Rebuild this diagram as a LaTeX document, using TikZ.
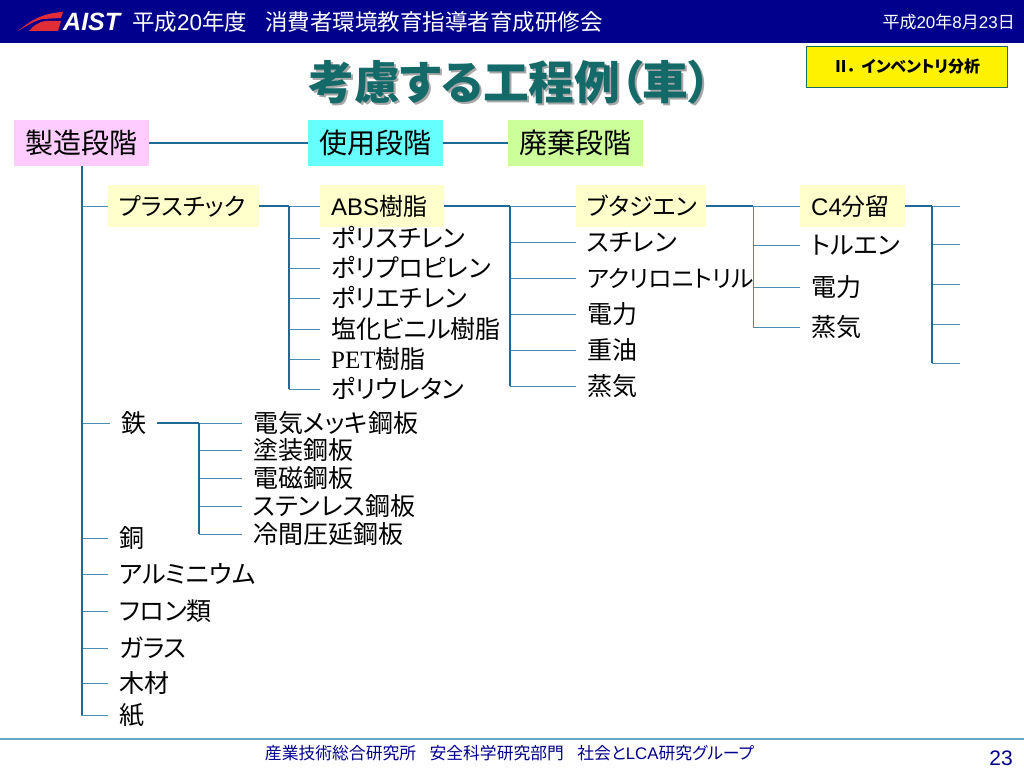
\documentclass[tikz,border=0pt]{standalone}
\usepackage{fontspec}
\setmainfont[RawFeature=+palt]{Noto Sans CJK JP}
\newfontfamily\arialfont{Liberation Sans}
\newfontfamily\romanfont{Liberation Serif}
\usetikzlibrary{calc,positioning}

\definecolor{headblue}{RGB}{0,0,140}
\definecolor{linkblue}{RGB}{30,105,150}
\definecolor{paleblue}{RGB}{75,140,180}
\definecolor{footblue}{RGB}{100,170,205}
\definecolor{titlegreen}{RGB}{20,105,105}
\definecolor{logored}{RGB}{225,45,55}
\definecolor{partyellow}{RGB}{255,255,204}
\definecolor{stagepink}{RGB}{255,204,255}
\definecolor{stagecyan}{RGB}{102,255,255}
\definecolor{stagegreen}{RGB}{204,255,153}
\newcommand{\fsize}[1]{\fontsize{#1}{#1}\selectfont}

\tikzset{
  stagebox/.style={anchor=west, minimum width=135, minimum height=46, inner xsep=0, inner ysep=0,
    text height=24.6, text depth=3.4, font=\fsize{28}},
  partbox/.style={anchor=west, fill=partyellow, minimum height=42, inner xsep=11, inner ysep=0,
    text height=21, text depth=3, font=\fsize{24}},
  leaf/.style={anchor=west, inner xsep=11, inner ysep=0, text height=22, text depth=3, font=\fsize{25}},
  trunkline/.style={draw=linkblue, line width=1.7},
  branchline/.style={draw=paleblue, line width=1},
  headtext/.style={anchor=west, text=white, inner sep=0},
}

\begin{document}
\begin{tikzpicture}[x=1pt, y=-1pt]
    \useasboundingbox (0,0) rectangle (1024,768);

    % header and footer
    \fill[headblue] (0,0) rectangle (1024,43);
    \fill[logored] (18,31) .. controls (30,21) and (42,13) .. (63,12) -- (61,18) -- (43,19)
      .. controls (36,20) and (28,25) .. (18,31);
    \fill[logored] (29,31) .. controls (33,26) and (38,22) .. (46,21) -- (61,21) -- (58,31) -- cycle;
    \node[headtext, font=\fsize{25}\arialfont\bfseries\itshape] (logo) at (63,22) {AIST};
    \node[headtext, font=\fsize{22.5}] (course) at (132,22)
      {平成{\arialfont 20}年度\hspace{.8em}消費者環境教育指導者育成研修会};
    \node[headtext, anchor=east, font=\fsize{17}] (date) at (1015,22) {平成{\arialfont 20}年{\arialfont 8}月{\arialfont 23}日};
    \draw[draw=footblue, line width=1.4] (0,739) -- (1024,739);
    \node[inner sep=0, text=headblue, font=\fsize{16.8}] (group) at (509.5,753)
      {産業技術総合研究所\hspace{.8em}安全科学研究部門\hspace{.8em}社会と{\arialfont LCA}研究グループ};
    \node[inner sep=0, text=headblue, font=\fsize{21}\arialfont] (page) at (1001,758) {23};

    % title
    \node[inner sep=0, text=black!35, font=\fsize{45.7}\bfseries] (titleshade) at (512,84) {考慮する工程例（車）};
    \node[inner sep=0, text=titlegreen, font=\fsize{45.7}\bfseries] (title) at (510,82) {考慮する工程例（車）};
    \node[draw=titlegreen, fill=yellow, line width=.8, minimum width=201, minimum height=41, inner sep=0,
      font=\fsize{16}\bfseries] (invent) at (906.5,66.5) {Ⅱ．\hspace{.3em}インベントリ分析};

    % stages
    \node[stagebox, fill=stagepink] (make) at (14,143) {製造段階};
    \node[stagebox, fill=stagecyan] (use) at (308,143) {使用段階};
    \node[stagebox, fill=stagegreen] (waste) at (508,143) {廃棄段階};
    \draw[trunkline] (make) -- (use);
    \draw[trunkline] (use) -- (waste);

    % parts on the top row
    \node[partbox, text width=129] (plastic) at (108,206) {プラスチック};
    \node[partbox, text width=102] (abs) at (320,206) {{\arialfont ABS}樹脂};
    \node[partbox, text width=108] (butadiene) at (576,206) {ブタジエン};
    \node[partbox, text width=83] (cfour) at (800,206) {{\arialfont C4}分留};
    \coordinate (plasticjoint) at (289,206);
    \coordinate (absjoint) at (510,206);
    \coordinate (butajoint) at (753,206);
    \coordinate (cfourjoint) at (932,206);

    % left column
    \node[leaf] (iron) at (110,423) {鉄};
    \foreach \name/\y/\txt in {copper/538/銅, alu/574/アルミニウム, freon/611/フロン類,
        glass/648/ガラス, wood/683/木材, paper/715/紙}
      \node[leaf, xshift=-2] (\name) at (110,\y) {\txt};

    % plastics
    \foreach \name/\y/\txt in {styrene/238/ポリスチレン, pp/268/ポリプロピレン, pe/298/ポリエチレン,
        pvc/329/塩化ビニル樹脂, pet/359/{\romanfont PET}樹脂, pu/389/ポリウレタン}
      \node[leaf] (\name) at (320,\y) {\txt};

    % butadiene row
    \foreach \name/\y/\txt in {sty/242/スチレン, acryl/278/{\fsize{23.7}アクリロニトリル}, powa/314/電力,
        oil/350/重油, steama/386/蒸気}
      \node[leaf] (\name) at (576,\y) {\txt};

    % c4 row
    \foreach \name/\y/\txt in {toluene/245/トルエン, powb/287/電力, steamb/327/蒸気}
      \node[leaf] (\name) at (800,\y) {\txt};

    % steel sheets
    \coordinate (ironjoint) at (199,423);
    \foreach \name/\y/\txt in {zinc/423/電気メッキ鋼板, paint/450/塗装鋼板, magnet/478/電磁鋼板,
        stain/506/ステンレス鋼板, cold/534/冷間圧延鋼板}
      \node[leaf] (\name) at (242,\y) {\txt};

    % free ends on the right
    \coordinate (enda) at (960,206);
    \coordinate (endb) at (960,244);
    \coordinate (endc) at (960,284);
    \coordinate (endd) at (960,324);
    \coordinate (ende) at (960,363);

    % connectors
    \foreach \n in {plastic,iron,copper,alu,freon,glass,wood,paper}
      \draw[branchline] (make.south) |- (\n.west);
    \draw[trunkline] (make.south) -- (make.south |- paper.west);

    \draw[trunkline] (plastic) -- (plasticjoint);
    \draw[branchline] (plasticjoint) -- (abs);
    \foreach \n in {styrene,pp,pe,pvc,pet,pu}
      \draw[branchline] (plasticjoint) |- (\n.west);
    \draw[trunkline] (plasticjoint) -- (plasticjoint |- pu.west);

    \draw[trunkline] (abs) -- (absjoint);
    \draw[branchline] (absjoint) -- (butadiene);
    \foreach \n in {sty,acryl,powa,oil,steama}
      \draw[branchline] (absjoint) |- (\n.west);
    \draw[trunkline] (absjoint) -- (absjoint |- steama.west);

    \draw[trunkline] (butadiene) -- (butajoint);
    \draw[branchline] (butajoint) -- (cfour);
    \foreach \n in {toluene,powb,steamb}
      \draw[branchline] (butajoint) |- (\n.west);

    \draw[trunkline] (cfour) -- (cfourjoint);
    \draw[branchline] (cfourjoint) -- (enda);
    \foreach \n in {endb,endc,endd,ende}
      \draw[branchline] (cfourjoint) |- (\n);
    \draw[trunkline] (cfourjoint) -- (cfourjoint |- ende);

    \draw[trunkline] (iron.east) -- (ironjoint);
    \foreach \n in {zinc,paint,magnet,stain,cold}
      \draw[branchline] (ironjoint) |- (\n.west);
    \draw[trunkline] (ironjoint) -- (ironjoint |- cold.west);
\end{tikzpicture}
\end{document}
